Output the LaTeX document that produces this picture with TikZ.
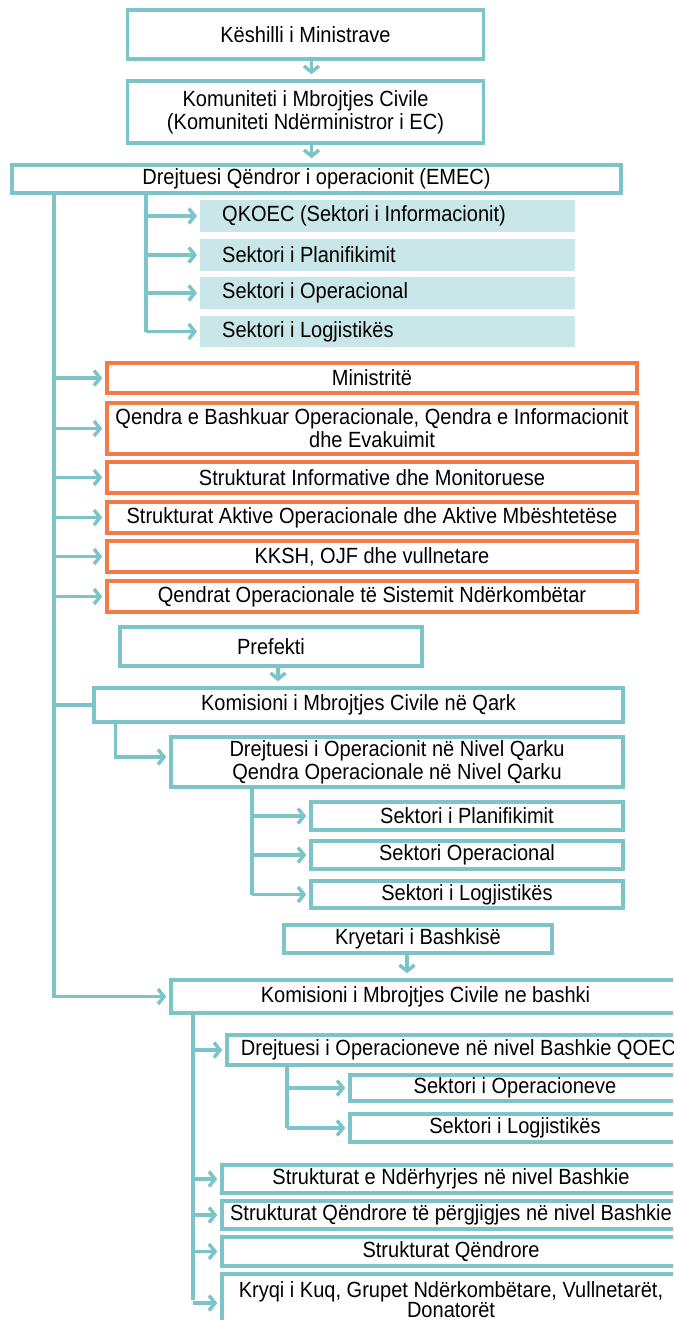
\documentclass[tikz,border=0pt]{standalone}
\usepackage{fontspec}
\setmainfont{Liberation Sans}[FakeStretch=0.91]
\usetikzlibrary{arrows.meta}
\definecolor{teal1}{RGB}{125,196,200}
\definecolor{lteal}{RGB}{201,230,232}
\definecolor{orng}{RGB}{242,124,72}
\tikzset{
  base/.style={inner sep=0pt, align=center, font=\fontsize{22}{23}\selectfont, text=black},
  tbox/.style={base, draw=teal1, line width=3.5pt, fill=white},
  obox/.style={base, draw=orng, line width=3.5pt, fill=white},
  lbox/.style={base, fill=lteal, anchor=west, minimum width=375pt},
  conn/.style={draw=teal1, line width=3.5pt},
  arr/.style={conn, -{Straight Barb[length=6pt,width=15pt]}, shorten >=3pt},
  darr/.style={conn, -{Straight Barb[length=6pt,width=15pt]}, shorten >=5pt}
}
\begin{document}
\begin{tikzpicture}[x=1pt,y=-1pt]
\path[use as bounding box] (0,0) rectangle (673,1320);
\clip (0,0) rectangle (673,1320);

% top chain
\node[tbox, minimum width=356pt, minimum height=49pt] (b1) at (305.5,34.5) {Këshilli i Ministrave};
\node[tbox, minimum width=356pt, minimum height=62pt] (b2) at (305.5,112) {Komuniteti i Mbrojtjes Civile\\(Komuniteti Ndërministror i EC)};
\node[tbox, minimum width=609pt, minimum height=28pt] (b3) at (316.5,179) {Drejtuesi Qëndror i operacionit (EMEC)};
\draw[darr] ([xshift=6pt]b1.south) -- ([xshift=6pt]b1.south |- b2.north);
\draw[darr] ([xshift=6pt]b2.south) -- ([xshift=6pt]b2.south |- b3.north);

% light boxes
\node[lbox, minimum height=32pt] (lb1) at (200,216) {\makebox[375pt][l]{\hspace*{22pt}QKOEC (Sektori i Informacionit)}};
\node[lbox, minimum height=32pt] (lb2) at (200,255) {\makebox[375pt][l]{\hspace*{22pt}Sektori i Planifikimit}};
\node[lbox, minimum height=32pt] (lb3) at (200,293) {\makebox[375pt][l]{\hspace*{22pt}Sektori i Operacional}};
\node[lbox, minimum height=31pt] (lb4) at (200,331.5) {\makebox[375pt][l]{\hspace*{22pt}Sektori i Logjistikës}};
\coordinate (v2) at (146,193);
\draw[conn] (v2) -- (v2 |- lb4.west);
\foreach \n in {lb1,lb2,lb3,lb4} \draw[arr] (v2 |- \n.west) -- (\n.west);

% orange boxes
\node[obox, minimum width=530pt, minimum height=30pt] (o1) at (372,378) {Ministritë};
\node[obox, minimum width=530pt, minimum height=51pt] (o2) at (372,428.5) {Qendra e Bashkuar Operacionale, Qendra e Informacionit\\dhe Evakuimit};
\node[obox, minimum width=530pt, minimum height=31pt] (o3) at (372,477.5) {Strukturat Informative dhe Monitoruese};
\node[obox, minimum width=530pt, minimum height=31pt] (o4) at (372,517.5) {Strukturat Aktive Operacionale dhe Aktive Mbështetëse};
\node[obox, minimum width=530pt, minimum height=31pt] (o5) at (372,556.5) {KKSH, OJF dhe vullnetare};
\node[obox, minimum width=530pt, minimum height=31pt] (o6) at (372,596.5) {Qendrat Operacionale të Sistemit Ndërkombëtar};

% qark level
\node[tbox, minimum width=302pt, minimum height=39pt] (pref) at (271,646.5) {Prefekti};
\node[tbox, minimum width=529pt, minimum height=34pt] (qark) at (358.5,705) {Komisioni i Mbrojtjes Civile në Qark};
\node[tbox, minimum width=452pt, minimum height=50pt] (dq) at (397,762) {Drejtuesi i Operacionit në Nivel Qarku\\Qendra Operacionale në Nivel Qarku};
\node[tbox, minimum width=312pt, minimum height=28pt] (sq1) at (467,816) {Sektori i Planifikimit};
\node[tbox, minimum width=312pt, minimum height=28pt] (sq2) at (467,855) {Sektori Operacional};
\node[tbox, minimum width=312pt, minimum height=27pt] (sq3) at (467,894.5) {Sektori i Logjistikës};
\draw[darr] ([xshift=7pt]pref.south) -- ([xshift=7pt]pref.south |- qark.north);
\coordinate (v3) at (115.5,722);
\draw[arr] (v3) |- ([yshift=5pt]dq.west);
\coordinate (v4) at (252,787);
\draw[conn] (v4) -- (v4 |- sq3.west);
\foreach \n in {sq1,sq2,sq3} \draw[arr] (v4 |- \n.west) -- (\n.west);

% bashki level
\node[tbox, minimum width=268pt, minimum height=28pt] (kry) at (418,939) {Kryetari i Bashkisë};
\node[tbox, minimum width=509pt, minimum height=33pt] (bash) at (425.5,996.5) {Komisioni i Mbrojtjes Civile ne bashki};
\node[tbox, minimum width=463pt, minimum height=30pt] (dqo) at (458.5,1050) {Drejtuesi i Operacioneve në nivel Bashkie QOEC};
\node[tbox, minimum width=330pt, minimum height=26pt] (so1) at (515,1088) {Sektori i Operacioneve};
\node[tbox, minimum width=330pt, minimum height=28pt] (so2) at (515,1128) {Sektori i Logjistikës};
\node[tbox, minimum width=458pt, minimum height=28pt] (s1) at (451,1179) {Strukturat e Ndërhyrjes në nivel Bashkie};
\node[tbox, minimum width=458pt, minimum height=28pt] (s2) at (451,1215) {Strukturat Qëndrore të përgjigjes në nivel Bashkie};
\node[tbox, minimum width=458pt, minimum height=29pt] (s3) at (451,1251.5) {Strukturat Qëndrore};
\node[tbox, minimum width=458pt, minimum height=52pt, font=\fontsize{22}{20}\selectfont] (s4) at (451,1300) {Kryqi i Kuq, Grupet Ndërkombëtare, Vullnetarët,\\Donatorët};
\draw[darr] ([xshift=-11pt]kry.south) -- ([xshift=-11pt]kry.south |- bash.north);
\coordinate (v5) at (193,1013);
\draw[conn] (v5) -- (v5 |- s4.west);
\foreach \n in {dqo,s1,s2,s3} \draw[arr] (v5 |- \n.west) -- (\n.west);
\draw[arr] ([yshift=-3pt]v5 |- s4.west) -- ([yshift=-3pt]s4.west);
\coordinate (v6) at (287,1065);
\draw[conn] (v6) -- (v6 |- so2.west);
\foreach \n in {so1,so2} \draw[arr] (v6 |- \n.west) -- (\n.west);

% main left line
\coordinate (v1) at (54,193);
\draw[arr] (v1) |- (bash.west);
\foreach \n in {o1,o2,o3,o4,o5,o6} \draw[arr] (v1 |- \n.west) -- (\n.west);
\draw[conn] (v1 |- qark.west) -- (qark.west);
\end{tikzpicture}
\end{document}
